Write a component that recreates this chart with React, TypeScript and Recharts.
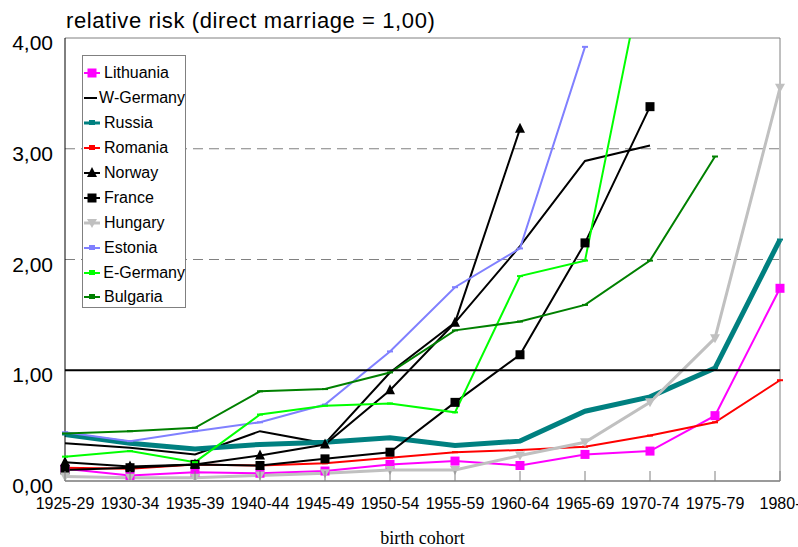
import React from 'react';
import { LineChart, Line, XAxis, YAxis, ReferenceLine, Legend } from 'recharts';

const cohorts = ['1925-29', '1930-34', '1935-39', '1940-44', '1945-49', '1950-54', '1955-59', '1960-64', '1965-69', '1970-74', '1975-79', '1980-'];

const lithuania = [0.11, 0.05, 0.08, 0.07, 0.09, 0.15, 0.18, 0.14, 0.24, 0.27, 0.59, 1.74];
const wGermany = [0.34, 0.30, 0.24, 0.45, 0.34, 0.98, 1.43, 2.12, 2.89, 3.03, null, null];
const russia = [0.42, 0.34, 0.29, 0.33, 0.35, 0.39, 0.32, 0.36, 0.63, 0.76, 1.02, 2.18];
const romania = [0.12, 0.11, 0.15, 0.14, 0.16, 0.21, 0.26, 0.28, 0.31, 0.41, 0.53, 0.91];
const norway = [0.17, 0.13, 0.15, 0.23, 0.33, 0.82, 1.43, 3.18, null, null, null, null];
const france = [0.10, 0.12, 0.15, 0.14, 0.20, 0.26, 0.71, 1.14, 2.15, 3.38, null, null];
const hungary = [0.04, 0.03, 0.03, 0.05, 0.07, 0.10, 0.10, 0.23, 0.35, 0.71, 1.29, 3.55];
const estonia = [0.44, 0.36, 0.45, 0.53, 0.69, 1.17, 1.75, 2.10, 3.92, null, null, null];
const eGermany = [0.22, 0.27, 0.17, 0.60, 0.68, 0.70, 0.62, 1.85, 1.99, 4.9, null, null];
const bulgaria = [0.43, 0.45, 0.48, 0.81, 0.83, 0.98, 1.36, 1.44, 1.59, 1.99, 2.93, null];

const yTicks = [0, 1, 2, 3, 4];

const seriesList = [
  { key: 'Lithuania', values: lithuania, color: '#ff00ff', width: 2, marker: 'square' },
  { key: 'W-Germany', values: wGermany, color: '#000000', width: 2, marker: 'none' },
  { key: 'Russia', values: russia, color: '#008080', width: 5, marker: 'small' },
  { key: 'Romania', values: romania, color: '#ff0000', width: 2, marker: 'small' },
  { key: 'Norway', values: norway, color: '#000000', width: 2, marker: 'triangle' },
  { key: 'France', values: france, color: '#000000', width: 2, marker: 'square' },
  { key: 'Hungary', values: hungary, color: '#c0c0c0', width: 3, marker: 'triangleDown' },
  { key: 'Estonia', values: estonia, color: '#8080ff', width: 2, marker: 'small' },
  { key: 'E-Germany', values: eGermany, color: '#00ff00', width: 2, marker: 'small' },
  { key: 'Bulgaria', values: bulgaria, color: '#008000', width: 2, marker: 'small' },
];

const data = cohorts.map((c, i) => {
  const row: Record<string, any> = { cohort: c };
  seriesList.forEach((s) => {
    row[s.key] = s.values[i];
  });
  return row;
});

function markerShape(type: string, cx: number, cy: number, color: string, k?: any) {
  if (type === 'square') {
    return <rect key={k} x={cx - 4.5} y={cy - 4.5} width={9} height={9} fill={color} />;
  }
  if (type === 'triangle') {
    return <polygon key={k} points={`${cx},${cy - 6} ${cx - 5},${cy + 4} ${cx + 5},${cy + 4}`} fill={color} />;
  }
  if (type === 'triangleDown') {
    return <polygon key={k} points={`${cx - 5},${cy - 4} ${cx + 5},${cy - 4} ${cx},${cy + 5}`} fill={color} />;
  }
  if (type === 'small') {
    return <rect key={k} x={cx - 3} y={cy - 1} width={6} height={2} fill={color} />;
  }
  return <g key={k} />;
}

const makeDot = (type: string, color: string) => (props: any) => {
  const { cx, cy, index, value } = props;
  const k = `d-${index}`;
  if (cx == null || cy == null || value == null || Number.isNaN(cy)) return <g key={k} />;
  return markerShape(type, cx, cy, color, k);
};

const XTick = (props: any) => {
  const { x, y, payload } = props;
  return (
    <g>
      <line x1={x} x2={x} y1={y - 10} y2={y} stroke="#808080" strokeWidth={1} />
      <text x={x} y={y + 28} textAnchor="middle" fontSize={16} fontFamily="Liberation Sans, Arial, sans-serif" fill="#000">
        {payload.value}
      </text>
    </g>
  );
};

const YTick = (props: any) => {
  const { x, y, payload } = props;
  return (
    <text x={x - 12} y={y + 12} textAnchor="end" fontSize={21} fontFamily="Liberation Sans, Arial, sans-serif" fill="#000">
      {Number(payload.value).toFixed(2).replace('.', ',')}
    </text>
  );
};

const LegendBox = (props: any) => {
  const payload = [...(props.payload || [])].sort(
    (a: any, b: any) =>
      seriesList.findIndex((s) => s.key === a.value) - seriesList.findIndex((s) => s.key === b.value)
  );
  return (
    <div
      style={{
        width: 104,
        height: 253,
        border: '1px solid #808080',
        background: '#fff',
        boxSizing: 'border-box',
        paddingTop: 5,
        fontFamily: 'Liberation Sans, Arial, sans-serif',
        fontSize: 16,
      }}
    >
      {payload.map((p: any) => {
        const s = seriesList.find((q) => q.key === p.value);
        if (!s) return null;
        return (
          <div key={p.value} style={{ height: 24.9, display: 'flex', alignItems: 'center', whiteSpace: 'nowrap' }}>
            <svg width={18} height={12} style={{ marginLeft: 1, marginRight: 2 }}>
              <line x1={0} x2={16} y1={6} y2={6} stroke={s.color} strokeWidth={Math.min(s.width, 3)} />
              {s.marker === 'small' ? (
                <rect x={5} y={3} width={6} height={5} fill={s.color} />
              ) : (
                markerShape(s.marker, 8, 6, s.color)
              )}
            </svg>
            <span style={{ color: '#000' }}>{p.value}</span>
          </div>
        );
      })}
    </div>
  );
};

export default function App() {
  return (
    <div style={{ position: 'absolute', left: 0, top: 0, width: 798, height: 547, background: '#fff' }}>
      <div
        style={{
          position: 'absolute',
          left: 66,
          top: 8,
          fontSize: 22,
          letterSpacing: 0.6,
          fontFamily: 'Liberation Sans, Arial, sans-serif',
          color: '#000',
          whiteSpace: 'nowrap',
          zIndex: 2,
        }}
      >
        relative risk (direct marriage = 1,00)
      </div>
      <LineChart width={798} height={547} data={data} margin={{ top: 38, right: 18, bottom: 3, left: 0 }}>
        <XAxis
          dataKey="cohort"
          interval={0}
          tickSize={0}
          tickMargin={0}
          tickLine={false}
          tick={<XTick />}
          height={63}
          axisLine={{ stroke: '#9a9a9a', strokeWidth: 2 }}
          label={{
            value: 'birth cohort',
            position: 'insideBottom',
            offset: 0,
            fontSize: 18,
            fontFamily: 'Liberation Serif, Times New Roman, serif',
            fill: '#000',
          }}
        />
        <YAxis
          width={65}
          domain={[0, 4]}
          ticks={yTicks}
          allowDataOverflow
          tickSize={0}
          tickMargin={0}
          tickLine={false}
          tick={<YTick />}
          axisLine={{ stroke: '#000', strokeWidth: 1 }}
        />
        <ReferenceLine y={4} stroke="#808080" strokeWidth={1} />
        <ReferenceLine y={3} stroke="#808080" strokeWidth={1} strokeDasharray="10 6" />
        <ReferenceLine y={2} stroke="#808080" strokeWidth={1} strokeDasharray="10 6" />
        <ReferenceLine x="1980-" stroke="#808080" strokeWidth={1} />
        {seriesList.map((s) => (
          <Line
            key={s.key}
            type="linear"
            dataKey={s.key}
            name={s.key}
            stroke={s.color}
            strokeWidth={s.width}
            dot={makeDot(s.marker, s.color)}
            activeDot={false}
            isAnimationActive={false}
            connectNulls={false}
          />
        ))}
        <ReferenceLine y={1} stroke="#000" strokeWidth={2} />
        <Legend
          layout="vertical"
          align="center"
          verticalAlign="middle"
          content={<LegendBox />}
          wrapperStyle={{ left: 82, top: 55, width: 104, height: 253 }}
        />
      </LineChart>
    </div>
  );
}
